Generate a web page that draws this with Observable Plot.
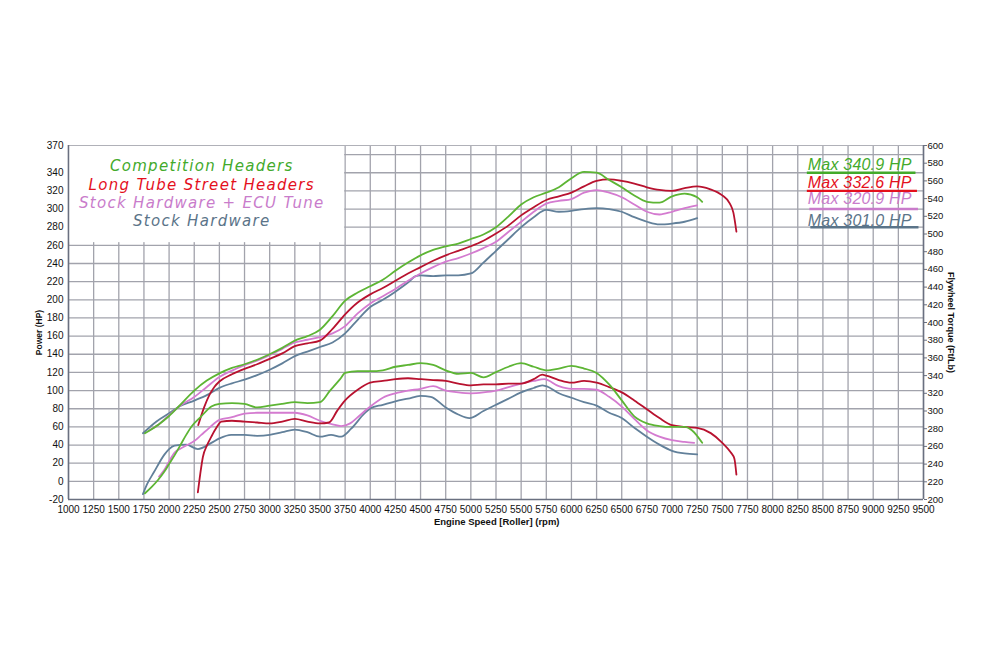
<!DOCTYPE html>
<html><head><meta charset="utf-8">
<script src="https://cdn.jsdelivr.net/npm/d3@7"></script>
<script src="https://cdn.jsdelivr.net/npm/@observablehq/plot@0.6"></script>
<style>
html,body{margin:0;padding:0;background:#fff;}
#chart{width:1000px;height:670px;}
</style></head><body><div id="chart"></div>
<script>
// ---------- series names / colors ----------
const seriesNames = ["Competition Headers", "Long Tube Street Headers", "Stock Hardware + ECU Tune", "Stock Hardware"];
const lineColors = ["#5db534", "#b8122f", "#d47bd0", "#62809a"];
const textColors = ["#43aa2b", "#e4101d", "#c97ccb", "#5b7489"];
const maxLabels = ["Max 340.9 HP", "Max 332.6 HP", "Max 320.9 HP", "Max 301.0 HP"];

// ---------- Competition Headers ----------
const compPowerRpm = [1760,1900,2000,2100,2250,2375,2500,2625,2750,2875,3000,3125,3250,3375,3500,3625,3750,3875,4000,4125,4250,4375,4500,4625,4750,4875,5000,5125,5250,5375,5500,5625,5750,5875,6000,6125,6250,6375,6500,6625,6750,6875,7000,7125,7250,7300];
const compPower    = [53,63,72,83,100,111,119,125,129,134,140,147,155,160,167,182,199,208,215,222,232,241,249,255,259,262,267,272,280,292,305,313,318,324,334,340.9,340,332,324,315,308,307,314,317,313,308];
const compTorqueRpm = [1760,1825,1890,1950,2000,2060,2120,2170,2220,2320,2420,2500,2625,2750,2875,3000,3125,3250,3375,3500,3600,3700,3750,3875,4000,4125,4250,4375,4500,4625,4750,4875,5000,5125,5250,5375,5500,5625,5750,5875,6000,6125,6250,6375,6500,6625,6750,6875,7000,7125,7200,7300];
const compTorque    = [207,214,222,231,240,251,263,273,282,294,305,308,309,308,304,306,308,310,309,310,323,336,343,345,345,346,350,352,354,352,346,342,343,338,344,350,354,350,346,348,351,348,343,330,312,294,286,283,282,282,278,264];

// ---------- Long Tube Street Headers ----------
const ltPowerRpm = [2290,2350,2400,2450,2500,2625,2750,2875,3000,3125,3250,3375,3500,3625,3750,3875,4000,4125,4250,4375,4500,4625,4750,4875,5000,5125,5250,5375,5500,5625,5750,5875,6000,6125,6250,6375,6500,6625,6750,6875,7000,7125,7250,7375,7500,7575,7610,7640];
const ltPower    = [62,82,95,104,110,118,124,129,135,141,149,152,155,168,184,197,206,213,221,229,236,243,249,254,259,265,273,282,293,302,310,314,318,325,331,332.6,331,328,324,321,320,323,325,322,315,306,296,275];
const ltTorqueRpm = [2286,2310,2336,2380,2420,2470,2520,2625,2750,2875,3000,3125,3250,3375,3500,3590,3675,3750,3875,4000,4125,4250,4375,4500,4625,4750,4875,5000,5125,5250,5375,5500,5625,5710,5750,5875,6000,6125,6250,6375,6500,6625,6750,6875,7000,7125,7250,7385,7500,7585,7620,7640];
const ltTorque    = [208,229,248,262,271,281,288,289,288,287,286,288,291,288,286,287,301,312,324,332,334,336,337,336,335,334,331,329,330,330,331,331,336,341,340,335,332,334,332,327,321,312,302,292,284,282,281,275,264,253,246,228];

// ---------- Stock Hardware + ECU Tune ----------
const ecuPowerRpm = [1800,1900,2000,2100,2250,2375,2500,2625,2750,2875,3000,3125,3250,3375,3500,3625,3750,3875,4000,4125,4250,4375,4500,4625,4750,4875,5000,5125,5250,5375,5500,5625,5750,5875,6000,6125,6250,6375,6500,6625,6750,6875,7000,7125,7250];
const ecuPower    = [56,63,73,82.5,93,104,115,122,128,133,139,146,153,156,159,163,171,185,196,204,212,221,229,236,242,246,251,257,264,275,286,297,306,309,311,318,320.9,318,313,305,297,294,297,301,304];
const ecuTorqueRpm = [1900,1950,2000,2055,2120,2170,2250,2320,2400,2500,2625,2750,2875,3000,3125,3250,3375,3500,3625,3710,3800,3875,4000,4125,4250,4375,4500,4625,4750,4875,5000,5125,5250,5375,5500,5625,5730,5875,6000,6125,6250,6375,6500,6625,6750,6875,7000,7125,7220];
const ecuTorque    = [226,233,243,253,258,261,266,273,281,290,293,297,298,298,298,298,295,289,285,283,286,293,305,315,320,323,325,328,323,321,320,321,323,327,331,334,336,328,325,325,324,316,305,291,278,271,267,265,264];

// ---------- Stock Hardware ----------
const stockPowerRpm = [1740,1875,2000,2100,2250,2375,2500,2625,2750,2875,3000,3125,3250,3375,3500,3625,3750,3875,4000,4125,4250,4375,4450,4500,4625,4750,4875,5000,5125,5250,5375,5500,5625,5750,5875,6000,6125,6250,6375,6500,6625,6750,6875,7000,7125,7250];
const stockPower    = [53,66,75,82.5,89,95,103,108,112,117,123,130,138,143,148,153,163,178,192,200,209,219,226,227,226,227,227,229,241,254,267,280,291,299,297,298,300,301,300,297,291,286,283,284,286,290];
const stockTorqueRpm = [1740,1780,1850,1955,2000,2055,2170,2286,2420,2500,2617,2750,2875,3000,3125,3250,3375,3500,3610,3710,3810,3940,4000,4125,4250,4375,4500,4600,4750,4875,4985,5125,5250,5375,5500,5625,5710,5750,5875,6000,6125,6250,6375,6500,6625,6750,6875,7000,7125,7250];
const stockTorque    = [206,217,231,251,257,261,262,257,264,269,273,273,272,273,276,279,276,271,273,271,280,297,303,307,311,314,317,316,304,296,292,300,307,314,321,326,329,328,320,315,310,306,298,292,281,271,262,255,252,251];

// ---------- axes ----------
const xTicks = [1000,1250,1500,1750,2000,2250,2500,2750,3000,3250,3500,3750,4000,4250,4500,4750,5000,5250,5500,5750,6000,6250,6500,6750,7000,7250,7500,7750,8000,8250,8500,8750,9000,9250,9500];
const powerTicks = [-20,0,20,40,60,80,100,120,140,160,180,200,220,240,260,280,300,320,340,370];
const gridY = [0,20,40,60,80,100,120,140,160,180,200,220,240,260,280,300,320,340,360];
const torqueTicks = [200,220,240,260,280,300,320,340,360,380,400,420,440,460,480,500,520,540,560,580,600];
const powerMax = [340, 320, 300, 280];

// torque (right axis, 200..600) shares the frame with power (left axis, -20..370)
const toL = t => (t - 200) * 390 / 400 - 20;
const toT = l => Math.round((l + 20) * 400 / 390 + 200);

function rows(idx, rpm, vals, torque) {
  return rpm.map((r, i) => ({s: idx, kind: torque ? "t" : "p", rpm: r, v: torque ? toL(vals[i]) : vals[i]}));
}
const lines = [
  ...rows(3, stockPowerRpm, stockPower, false), ...rows(3, stockTorqueRpm, stockTorque, true),
  ...rows(2, ecuPowerRpm, ecuPower, false), ...rows(2, ecuTorqueRpm, ecuTorque, true),
  ...rows(1, ltPowerRpm, ltPower, false), ...rows(1, ltTorqueRpm, ltTorque, true),
  ...rows(0, compPowerRpm, compPower, false), ...rows(0, compTorqueRpm, compTorque, true)
];

const gridColor = "#a2a3ac";
const axisColor = "#6a7080";
const font = "Liberation Sans, Arial, sans-serif";

const chart = Plot.plot({
  width: 1000, height: 670,
  marginLeft: 68, marginRight: 77, marginTop: 145, marginBottom: 171,
  style: {fontFamily: font, background: "#fff", overflow: "visible"},
  x: {domain: [1000, 9500]},
  y: {domain: [-20, 370]},
  marks: [
    Plot.ruleX(xTicks, {stroke: gridColor, strokeWidth: 1.3}),
    Plot.ruleY(gridY, {stroke: gridColor, strokeWidth: 1.3}),
    // white legend panel
    Plot.rect([0], {x1: 1003, x2: 3745, y1: 263, y2: 369.5, fill: "#fff"}),
    Plot.ruleY([370], {stroke: "#b0b1b8", strokeWidth: 1.2}),
    Plot.ruleY([-20], {stroke: axisColor, strokeWidth: 1.5}),
    Plot.ruleX([1000, 9500], {stroke: axisColor, strokeWidth: 1.5}),
    // max underlines
    Plot.ruleY(powerMax, {y: d => d, x1: (d, i) => [8345, 8345, 8370, 8380][i], x2: (d, i) => [9425, 9440, 9450, 9455][i], stroke: (d, i) => textColors[i], strokeWidth: 2.4}),
    // curves
    Plot.line(lines, {x: "rpm", y: "v", z: d => d.s + d.kind, stroke: d => lineColors[d.s], strokeWidth: 1.8, curve: "monotone-x"}),
    // axes
    Plot.axisX({ticks: xTicks, tickSize: 0, tickPadding: 6, fontSize: 10, tickFormat: d => String(d), fill: "#111", label: null}),
    Plot.axisY({ticks: powerTicks, tickSize: 0, tickPadding: 5, fontSize: 10, tickFormat: d => String(d), fill: "#111", label: null}),
    Plot.axisY({anchor: "right", ticks: torqueTicks.map(toL), tickSize: 3, tickPadding: 1, fontSize: 9.5, tickFormat: toT, fill: "#111", stroke: axisColor, label: null}),
    // axis titles
    Plot.text(["Power (HP)"], {x: 710, y: 164, rotate: -90, fontSize: 8.5, fontWeight: "bold", fill: "#111"}),
    Plot.text(["Flywheel Torque (Ft/Lb)"], {x: 9770, y: 175, rotate: 90, fontSize: 9, fontWeight: "bold", fill: "#111"}),
    Plot.text(["Engine Speed [Roller] (rpm)"], {x: 5257, y: -45, fontSize: 9.5, fontWeight: "bold", fill: "#111"}),
    // legend (one multi-line text, each line coloured afterwards)
    Plot.text([seriesNames.join("\n")], {x: 2325, y: 317.7, lineHeight: 1.22, fill: textColors[0], fontSize: 15, fontStyle: "italic", fontFamily: "DejaVu Sans, sans-serif"}),
    Plot.text(maxLabels, {x: 8350, y: (d, i) => [348.3, 328.9, 311.3, 286.6][i], fill: (d, i) => textColors[i], textAnchor: "start", fontSize: 16, fontStyle: "italic"})
  ]
});
document.getElementById("chart").appendChild(chart);
chart.querySelectorAll("text").forEach(t => {
  const spans = t.querySelectorAll("tspan");
  if (spans.length === seriesNames.length && spans[0].textContent === seriesNames[0]) {
    t.setAttribute("letter-spacing", "1.3");
    spans.forEach((s, i) => s.setAttribute("fill", textColors[i]));
  }
  if (maxLabels.includes(t.textContent)) t.setAttribute("letter-spacing", "0.2");
});
</script>
</body></html>
